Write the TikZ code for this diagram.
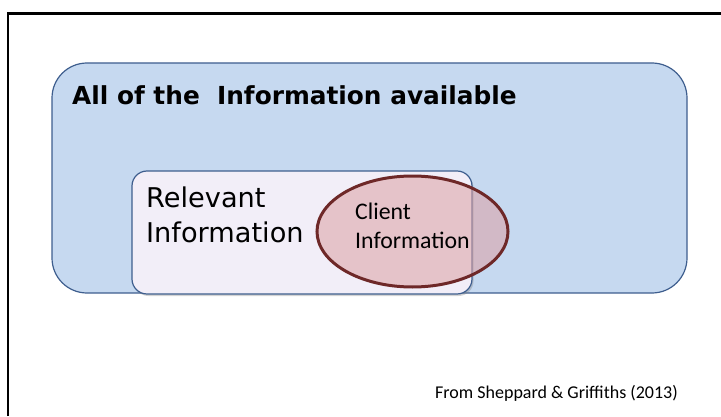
\documentclass[tikz,border=0pt]{standalone}
\usepackage{fontspec}
\setmainfont{DejaVu Sans}
\newfontfamily\calib{Carlito}
\usetikzlibrary{shapes.geometric,shadows}
\definecolor{boxblue}{RGB}{198,217,240}
\definecolor{edgeblue}{RGB}{62,94,142}
\definecolor{boxlav}{RGB}{242,238,248}
\definecolor{clipink}{RGB}{220,160,164}
\definecolor{cliedge}{RGB}{110,40,40}

\begin{document}
\begin{tikzpicture}[x=1pt,y=1pt,
    infobox/.style={draw=edgeblue, line width=1.2pt},
    comic/.style={font=\fontsize{27.2}{35}\selectfont}]
        \useasboundingbox (0,0) rectangle (721,416);
        \draw[line width=2.5pt] (8,0) -- (8,402.5) -- (721,402.5);

        \node[infobox, fill=boxblue, rounded corners=35pt, minimum width=635pt, minimum height=230pt] (All) at (369.5,238) {};
        \node[infobox, fill=boxlav, rounded corners=15pt, minimum width=340pt, minimum height=123pt,
              drop shadow={shadow xshift=1.5pt, shadow yshift=-2pt, opacity=0.35}] (Rel) at (302,183.5) {};
        \node[ellipse, draw=cliedge, fill=clipink, fill opacity=0.55, line width=3pt,
              minimum width=191pt, minimum height=111pt] (Cli) at (412.5,184.5) {};

        \node[anchor=base west, inner sep=0pt, font=\bfseries\fontsize{24.8}{30}\selectfont] (AllT) at (72,311) {All of the\ \ Information available};
        \node[comic, anchor=base west, align=left, inner sep=0pt] (RelT) at (146,174) {Relevant\\Information};
        \node[anchor=base west, align=left, inner sep=0pt, font=\calib\fontsize{23.8}{28}\selectfont] (CliT) at (355,168) {Client\\Information};
        \node[anchor=base west, inner sep=0pt, font=\calib\fontsize{18}{20}\selectfont] (Src) at (435,18) {From Sheppard \& Griffiths (2013)};
    \end{tikzpicture}
\end{document}
